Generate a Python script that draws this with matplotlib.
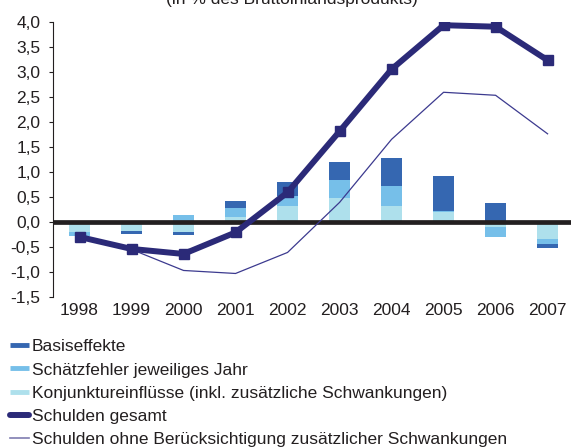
import matplotlib.pyplot as plt
from matplotlib.lines import Line2D
import numpy as np

plt.rcParams['font.family'] = ['Liberation Sans', 'DejaVu Sans']

years = ['1998', '1999', '2000', '2001', '2002', '2003', '2004', '2005', '2006', '2007']

# stacked contributions (from zero outwards: Konjunktur, Schaetzfehler, Basis)
konjunktur = [-0.20, -0.18, -0.20, 0.10, 0.32, 0.47, 0.32, 0.20, -0.10, -0.35]
schaetzfehler = [-0.08, 0.00, 0.14, 0.18, 0.20, 0.36, 0.40, 0.02, -0.20, -0.10]
basiseffekte = [0.00, -0.07, -0.06, 0.14, 0.28, 0.36, 0.56, 0.69, 0.37, -0.07]

schulden_gesamt = [-0.30, -0.54, -0.64, -0.21, 0.59, 1.81, 3.05, 3.93, 3.90, 3.23]
schulden_ohne = [-0.30, -0.55, -0.97, -1.03, -0.61, 0.39, 1.65, 2.59, 2.53, 1.76]

yticks = [-1.5, -1.0, -0.5, 0.0, 0.5, 1.0, 1.5, 2.0, 2.5, 3.0, 3.5, 4.0]

c_basis = '#3567b1'
c_schaetz = '#76bfe9'
c_konj = '#aee0ec'
c_line = '#2b2a78'

fig = plt.figure(figsize=(5.71, 4.48), dpi=100)
ax = fig.add_axes([53 / 571, 1 - 297 / 448, 518 / 571, (297 - 21.7) / 448])

x = np.arange(len(years))
pos_bottom = np.zeros(len(years))
neg_bottom = np.zeros(len(years))
for vals, col in [(konjunktur, c_konj), (schaetzfehler, c_schaetz), (basiseffekte, c_basis)]:
    vals = np.array(vals)
    bottom = np.where(vals >= 0, pos_bottom, neg_bottom)
    ax.bar(x, vals, 0.4, bottom=bottom, color=col, linewidth=0, zorder=2)
    pos_bottom += np.where(vals >= 0, vals, 0)
    neg_bottom += np.where(vals < 0, vals, 0)

# zero line with a faint shadow
ax.axhline(-0.03, color='#b0b0b0', lw=1.2, zorder=3)
ax.axhline(0, color='#231f20', lw=3.4, zorder=3)

ax.plot(x, schulden_ohne, color='#3c3a8f', lw=0.9, zorder=4)
ax.plot(x, schulden_gesamt, color=c_line, lw=4.3, marker='s', markersize=6.5, zorder=5)

ax.set_xlim(-0.51, 9.45)
ax.set_ylim(-1.5, 4.0)
ax.set_yticks(yticks)
ax.set_yticklabels([f'{v:.1f}'.replace('.', ',') for v in yticks], fontsize=12.5, color='#231f20')
ax.set_xticks(x)
ax.set_xticklabels(years, fontsize=12.5, color='#231f20')
ax.tick_params(axis='x', length=0, pad=4)
ax.tick_params(axis='y', length=3, width=0.8, pad=6, color='#231f20')
for s in ['top', 'right', 'bottom']:
    ax.spines[s].set_visible(False)
ax.spines['left'].set_linewidth(0.8)
ax.spines['left'].set_color('#231f20')

fig.text(292 / 571, 1 - 4 / 448, '(in % des Bruttoinlandsprodukts)', ha='center', va='baseline',
         fontsize=12.5, color='#231f20')

handles = [
    Line2D([], [], color=c_basis, lw=3.5, solid_capstyle='butt'),
    Line2D([], [], color=c_schaetz, lw=3.5, solid_capstyle='butt'),
    Line2D([], [], color=c_konj, lw=3.5, solid_capstyle='butt'),
    Line2D([], [], color=c_line, lw=4.3, solid_capstyle='round'),
    Line2D([], [], color='#7f7db0', lw=1.2),
]
labels = ['Basiseffekte', 'Schätzfehler jeweiliges Jahr',
          'Konjunktureinflüsse (inkl. zusätzliche Schwankungen)',
          'Schulden gesamt',
          'Schulden ohne Berücksichtigung zusätzlicher Schwankungen']
fig.legend(handles, labels, loc='upper left', bbox_to_anchor=(5 / 571, 1 - 334 / 448),
           frameon=False, fontsize=12.5, handlelength=1.1, handletextpad=0.15,
           labelspacing=0.46, borderaxespad=0, borderpad=0.3, labelcolor='#231f20')

fig.savefig('out.png', dpi=100)
